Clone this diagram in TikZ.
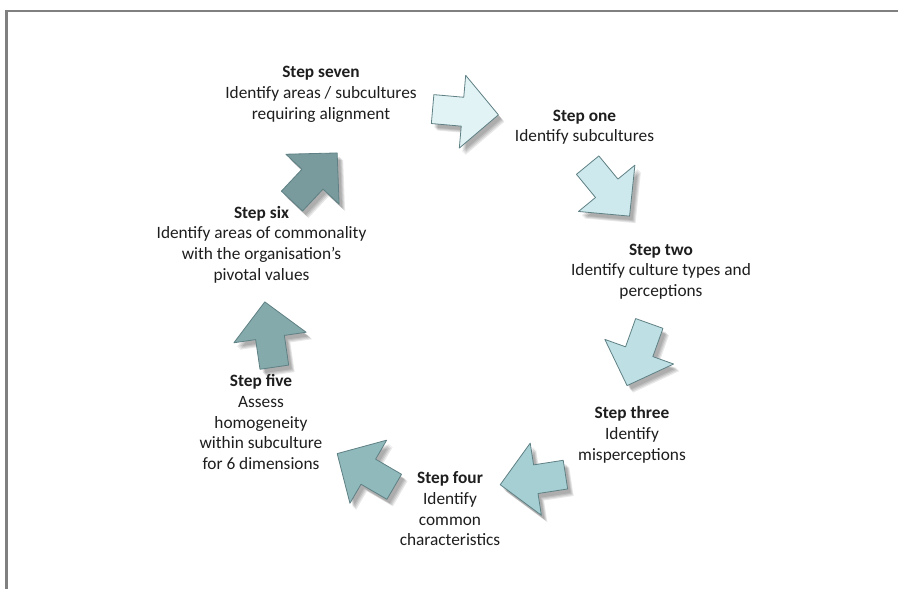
\documentclass[tikz,border=0pt]{standalone}
\usepackage{fontspec}
\setmainfont{Carlito}

\definecolor{frameGray}{RGB}{128,128,128}
\definecolor{arrowEdge}{RGB}{95,128,132}
\definecolor{textGray}{RGB}{30,30,30}
\definecolor{stepA}{RGB}{226,243,245}
\definecolor{stepB}{RGB}{205,233,237}
\definecolor{stepC}{RGB}{190,224,229}
\definecolor{stepD}{RGB}{166,207,211}
\definecolor{stepE}{RGB}{144,185,187}
\definecolor{stepF}{RGB}{133,170,172}
\definecolor{stepG}{RGB}{122,155,157}

% block arrow pointing along +x, origin at the middle of the head base
\newcommand\blockarrowpath[1]{%
  \path[#1] (36,0) -- (0,36.5) -- (0,14.5) -- (-30,14.5)
    -- (-30,-14.5) -- (0,-14.5) -- (0,-36.5) -- cycle;}

% #1,#2 position, #3 direction angle, #4 fill colour
\newcommand\cyclearrow[4]{%
  \foreach \d in {3,4,5,6} {%
    \begin{scope}[shift={(#1+\d,#2+\d+1)}, rotate=#3]
      \blockarrowpath{fill=black, fill opacity=0.09}
    \end{scope}}
  \begin{scope}[shift={(#1,#2)}, rotate=#3]
    \blockarrowpath{fill=#4, draw=arrowEdge, line width=0.8pt, line join=round}
  \end{scope}}

% labels are placed by the baseline of their last line
\tikzset{
  steptext/.style={align=center, inner sep=0pt, text=textGray,
    font=\fontsize{17.3}{20.8}\selectfont, anchor=base},
}

\begin{document}
\begin{tikzpicture}[x=1pt, y=-1pt]
  \useasboundingbox (0,0) rectangle (898,589);
  \fill[white] (0,0) rectangle (898,589);

  % frame along the top and left edges
  \draw[frameGray, line width=2.4pt, line join=miter] (6.5,589) -- (6.5,11) -- (898,11);

  % cycle of arrows
  \cyclearrow{462.5}{111.7}{-5}{stepA}
  \cyclearrow{606.7}{188.3}{-50.6}{stepB}
  \cyclearrow{639.2}{351.7}{-109.7}{stepC}
  \cyclearrow{535.8}{479.2}{188.8}{stepD}
  \cyclearrow{368.3}{471.7}{149.8}{stepE}
  \cyclearrow{270}{337.5}{98.3}{stepF}
  \cyclearrow{312.5}{179.2}{46.8}{stepG}

  % step labels
  \node[steptext] (seven) at (321,119.1)
    {\textbf{Step seven}\\Identify areas / subcultures\\requiring alignment};
  \node[steptext] (one) at (584.5,141.8)
    {\textbf{Step one}\\Identify subcultures};
  \node[steptext] (two) at (661,296.6)
    {\textbf{Step two}\\Identify culture types and\\perceptions};
  \node[steptext] (three) at (632,460.1)
    {\textbf{Step three}\\Identify\\misperceptions};
  \node[steptext] (four) at (450,545.9)
    {\textbf{Step four}\\Identify\\common\\characteristics};
  \node[steptext] (five) at (261,469.7)
    {\textbf{Step five}\\Assess\\homogeneity\\within subculture\\for 6 dimensions};
  \node[steptext] (six) at (261.5,280.4)
    {\textbf{Step six}\\Identify areas of commonality\\with the organisation’s\\pivotal values};
\end{tikzpicture}
\end{document}
